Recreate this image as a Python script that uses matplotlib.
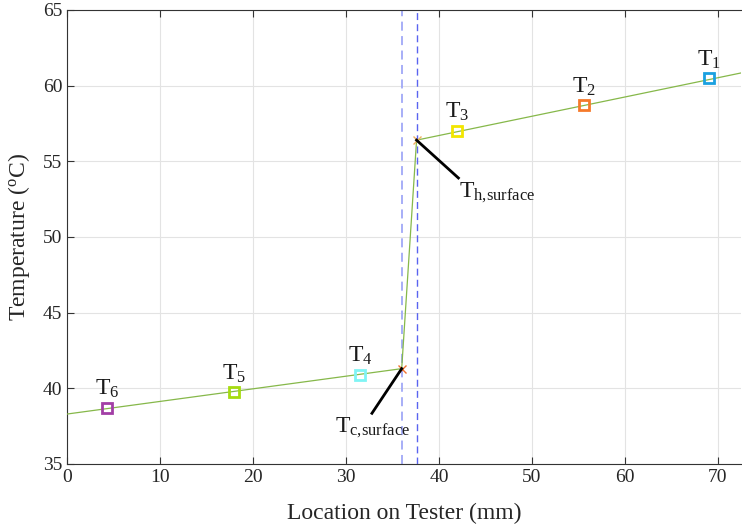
import matplotlib
matplotlib.use("Agg")
import matplotlib.pyplot as plt
import numpy as np

plt.rcParams['font.family'] = ['Liberation Serif', 'DejaVu Serif']
plt.rcParams['mathtext.fontset'] = 'custom'
plt.rcParams['mathtext.rm'] = 'Liberation Serif'
plt.rcParams['mathtext.it'] = 'Liberation Serif'

# Data
sensor_labels = ['T$_1$', 'T$_2$', 'T$_3$', 'T$_4$', 'T$_5$', 'T$_6$']
sensor_x = [69.1, 55.6, 42.0, 31.5, 18.0, 4.3]
sensor_y = [60.5, 58.7, 57.0, 40.9, 39.75, 38.7]
sensor_colors = ['#1aa0e0', '#f57a2a', '#f2e600', '#80f4f4', '#a6dc10', '#a23ea6']

hot_fit_x = [37.6, 72.5]
hot_fit_y = [56.4, 60.84]
cold_fit_x = [0.0, 36.0]
cold_fit_y = [38.3, 41.3]
interface_x = [36.0, 37.6]
interface_y = [41.3, 56.4]
wall_lines = [36.0, 37.6]

fig = plt.figure(figsize=(7.42, 5.29), dpi=100)
ax = fig.add_axes([0.0903, 0.1229, 0.9084, 0.8582])

green = '#86b84a'
ax.plot(hot_fit_x, hot_fit_y, color=green, lw=0.9, zorder=3)
ax.plot(cold_fit_x, cold_fit_y, color=green, lw=0.9, zorder=3)
ax.plot(interface_x, interface_y, color=green, lw=0.9, zorder=3)

ax.axvline(wall_lines[0], color='#a0a8f7', ls=(0, (5, 3)), lw=1.3, zorder=2)
ax.axvline(wall_lines[1], color='#5a64f0', ls=(0, (5, 3)), lw=1.0, zorder=2)

ax.plot([interface_x[1]], [interface_y[1]], marker='x', color='#f0b060', ms=6, mew=1, zorder=4)
ax.plot([interface_x[0]], [interface_y[0]], marker='x', color='#f07030', ms=6, mew=1, zorder=4)

for lab, x, y, c in zip(sensor_labels, sensor_x, sensor_y, sensor_colors):
    ax.plot([x], [y], marker='s', ms=6.5, mfc='none', mec=c, mew=2, zorder=5)
    ax.text(x, y + 0.5, lab, fontsize=17, ha='center', va='bottom', color='#1a1a1a')

ax.plot([37.6, 42.1], [56.4, 53.9], color='black', lw=2, zorder=6)
ax.text(42.2, 52.9, 'T$_{\\mathrm{h{,}surface}}$', fontsize=17, ha='left', va='center', color='#1a1a1a')
ax.plot([36.0, 32.8], [41.3, 38.35], color='black', lw=2, zorder=6)
ax.text(32.9, 37.4, 'T$_{\\mathrm{c{,}surface}}$', fontsize=17, ha='center', va='center', color='#1a1a1a')

ax.set_xlim(0, 72.5)
ax.set_ylim(35, 65)
ax.set_xticks(range(0, 71, 10))
ax.set_yticks(range(35, 66, 5))
ax.grid(True, color='#e3e3e3', lw=0.8)
ax.set_axisbelow(True)
ax.tick_params(direction='in', length=5, labelsize=14, colors='#333333', top=True, labelcolor='#262626')
for s in ax.spines.values():
    s.set_color('#333333')
    s.set_linewidth(0.8)
ax.spines['right'].set_visible(False)
ax.tick_params(right=False)

ax.set_xlabel('Location on Tester (mm)', fontsize=17, color='#262626', labelpad=12)
ax.set_ylabel('Temperature ($^{\\mathrm{o}}$C)', fontsize=17, color='#262626', labelpad=8)

fig.savefig('out.png', dpi=100)
